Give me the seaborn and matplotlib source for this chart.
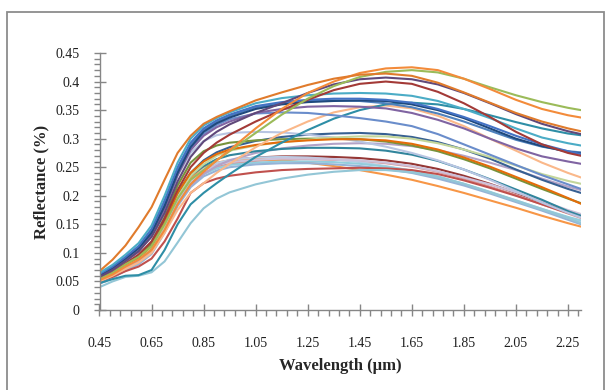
import numpy as np
import pandas as pd
import matplotlib
matplotlib.use("Agg")
import matplotlib.pyplot as plt
from matplotlib.ticker import FixedLocator
from matplotlib.patches import Rectangle
import seaborn as sns

# ---------------- data ----------------
wavelength = [0.45, 0.50, 0.55, 0.60, 0.65, 0.70, 0.75, 0.80, 0.85, 0.90, 0.95,
              1.05, 1.15, 1.25, 1.35, 1.45, 1.55, 1.65, 1.75, 1.85, 1.95, 2.05,
              2.15, 2.25, 2.30]

s01 = [0.068,0.088,0.113,0.145,0.180,0.228,0.275,0.305,0.326,0.338,0.348,0.367,0.381,0.394,0.405,0.412,0.414,0.410,0.398,0.381,0.363,0.345,0.330,0.318,0.313]
s02 = [0.063,0.076,0.093,0.112,0.142,0.192,0.250,0.293,0.318,0.332,0.342,0.357,0.364,0.368,0.370,0.370,0.368,0.363,0.352,0.338,0.322,0.305,0.290,0.278,0.273]
s03 = [0.065,0.079,0.097,0.117,0.148,0.200,0.258,0.300,0.323,0.336,0.346,0.362,0.371,0.376,0.379,0.380,0.379,0.375,0.366,0.352,0.336,0.318,0.302,0.292,0.288]
s04 = [0.060,0.073,0.090,0.108,0.135,0.182,0.240,0.285,0.312,0.327,0.337,0.352,0.360,0.364,0.366,0.367,0.366,0.360,0.350,0.336,0.318,0.300,0.287,0.277,0.274]
s05 = [0.058,0.070,0.086,0.103,0.128,0.170,0.225,0.268,0.295,0.312,0.325,0.345,0.362,0.380,0.395,0.404,0.407,0.404,0.395,0.380,0.362,0.343,0.326,0.313,0.308]
s06 = [0.057,0.069,0.085,0.102,0.130,0.178,0.236,0.280,0.305,0.320,0.330,0.345,0.352,0.356,0.357,0.356,0.353,0.345,0.333,0.318,0.300,0.283,0.269,0.260,0.256]
s07 = [0.055,0.066,0.081,0.097,0.120,0.160,0.210,0.250,0.275,0.293,0.307,0.330,0.350,0.368,0.385,0.396,0.400,0.396,0.382,0.362,0.338,0.312,0.290,0.275,0.270]
s08 = [0.059,0.071,0.087,0.104,0.132,0.180,0.238,0.282,0.308,0.324,0.334,0.344,0.346,0.345,0.341,0.336,0.330,0.322,0.308,0.290,0.272,0.254,0.236,0.220,0.212]
s09 = [0.061,0.074,0.091,0.110,0.138,0.188,0.246,0.290,0.315,0.330,0.340,0.355,0.362,0.366,0.367,0.366,0.362,0.355,0.344,0.330,0.314,0.298,0.286,0.278,0.276]
s10 = [0.052,0.062,0.076,0.088,0.105,0.140,0.185,0.220,0.242,0.262,0.280,0.318,0.352,0.380,0.400,0.415,0.423,0.425,0.420,0.405,0.387,0.368,0.352,0.341,0.337]
s11 = [0.054,0.065,0.080,0.093,0.112,0.150,0.195,0.228,0.245,0.262,0.278,0.310,0.342,0.370,0.392,0.408,0.417,0.420,0.416,0.405,0.390,0.376,0.364,0.354,0.350]
s12 = [0.047,0.054,0.060,0.061,0.070,0.105,0.150,0.185,0.205,0.222,0.238,0.268,0.293,0.315,0.335,0.350,0.360,0.363,0.360,0.352,0.341,0.329,0.318,0.309,0.306]
s13 = [0.050,0.060,0.072,0.083,0.100,0.135,0.175,0.205,0.222,0.240,0.256,0.285,0.310,0.330,0.346,0.355,0.358,0.353,0.340,0.322,0.300,0.279,0.258,0.240,0.232]
s14 = [0.056,0.067,0.082,0.094,0.115,0.155,0.205,0.240,0.262,0.276,0.285,0.296,0.303,0.307,0.309,0.310,0.308,0.303,0.294,0.281,0.265,0.246,0.228,0.212,0.205]
s15 = [0.052,0.064,0.080,0.094,0.120,0.170,0.235,0.275,0.296,0.306,0.310,0.312,0.311,0.307,0.302,0.295,0.286,0.275,0.262,0.246,0.228,0.208,0.188,0.170,0.162]
s16 = [0.055,0.066,0.082,0.095,0.118,0.162,0.218,0.258,0.278,0.288,0.293,0.297,0.299,0.300,0.300,0.299,0.295,0.288,0.278,0.264,0.248,0.230,0.212,0.195,0.187]
s17 = [0.053,0.064,0.079,0.090,0.110,0.148,0.198,0.235,0.255,0.270,0.279,0.288,0.294,0.298,0.302,0.304,0.304,0.300,0.292,0.281,0.268,0.253,0.238,0.226,0.221]
s18 = [0.054,0.065,0.080,0.092,0.112,0.152,0.205,0.240,0.260,0.273,0.281,0.289,0.294,0.297,0.299,0.299,0.297,0.291,0.281,0.267,0.251,0.233,0.215,0.196,0.186]
s19 = [0.051,0.061,0.075,0.086,0.104,0.140,0.185,0.218,0.238,0.252,0.262,0.275,0.283,0.288,0.291,0.292,0.291,0.287,0.280,0.270,0.258,0.245,0.230,0.216,0.210]
s20 = [0.053,0.063,0.078,0.090,0.110,0.150,0.200,0.235,0.252,0.264,0.271,0.278,0.282,0.284,0.284,0.283,0.279,0.272,0.261,0.246,0.229,0.211,0.193,0.173,0.165]
s21 = [0.052,0.062,0.076,0.088,0.106,0.145,0.195,0.228,0.246,0.256,0.262,0.267,0.269,0.269,0.268,0.266,0.262,0.256,0.247,0.235,0.221,0.205,0.189,0.172,0.164]
s22 = [0.050,0.060,0.074,0.086,0.104,0.142,0.190,0.222,0.240,0.250,0.256,0.261,0.264,0.264,0.263,0.261,0.257,0.251,0.242,0.230,0.216,0.201,0.185,0.169,0.161]
s23 = [0.050,0.061,0.075,0.087,0.105,0.145,0.196,0.230,0.250,0.258,0.262,0.264,0.262,0.258,0.252,0.245,0.237,0.228,0.217,0.205,0.192,0.179,0.165,0.152,0.146]
s24 = [0.048,0.058,0.072,0.084,0.102,0.142,0.192,0.226,0.247,0.257,0.263,0.267,0.268,0.267,0.264,0.259,0.252,0.244,0.233,0.220,0.206,0.192,0.177,0.162,0.155]
s25 = [0.049,0.059,0.073,0.085,0.103,0.143,0.193,0.226,0.244,0.254,0.259,0.263,0.265,0.265,0.264,0.262,0.258,0.252,0.243,0.232,0.220,0.206,0.191,0.175,0.168]
s26 = [0.047,0.057,0.070,0.082,0.100,0.138,0.186,0.220,0.238,0.248,0.254,0.258,0.260,0.260,0.259,0.256,0.251,0.244,0.234,0.221,0.207,0.192,0.177,0.163,0.157]
s27 = [0.046,0.056,0.069,0.080,0.098,0.135,0.182,0.215,0.234,0.244,0.250,0.255,0.257,0.257,0.255,0.252,0.247,0.240,0.230,0.218,0.204,0.189,0.174,0.158,0.150]
s28 = [0.050,0.058,0.068,0.076,0.090,0.120,0.160,0.205,0.222,0.230,0.235,0.241,0.245,0.247,0.248,0.249,0.248,0.245,0.238,0.227,0.214,0.200,0.185,0.170,0.164]
s29 = [0.040,0.050,0.058,0.060,0.066,0.085,0.118,0.152,0.178,0.195,0.206,0.220,0.230,0.237,0.242,0.245,0.245,0.241,0.233,0.221,0.206,0.191,0.176,0.161,0.152]

samples = [s21, s22, s23, s24, s25, s26, s27, s28, s29, s19, s20, s14, s15, s16, s17, s18,
           s13, s12, s08, s06, s09, s04, s02, s03, s07, s05, s11, s10, s01]
colors = ["#953735", "#D99694", "#F79646", "#B9CDE5", "#CCC1DA", "#93CDDD", "#95B3D7",
          "#C0504D", "#93C6D6", "#B3A2C7", "#31859C", "#376092", "#B8C5E2", "#77933C",
          "#C3D69B", "#E46C0A", "#FAB88A", "#2E8EA6", "#6A8DCB", "#8064A2", "#4F81BD",
          "#1F497D", "#4472C4", "#4BACC6", "#A33A37", "#60497A", "#9BBB59", "#F38B3A",
          "#E07B2C"]

x_ticks = [0.45, 0.65, 0.85, 1.05, 1.25, 1.45, 1.65, 1.85, 2.05, 2.25]
x_tick_labels = ["0.45", "0.65", "0.85", "1.05", "1.25", "1.45", "1.65", "1.85", "2.05", "2.25"]
y_ticks = [0, 0.05, 0.10, 0.15, 0.20, 0.25, 0.30, 0.35, 0.40, 0.45]
y_tick_labels = ["0", "0.05", "0.1", "0.15", "0.2", "0.25", "0.3", "0.35", "0.4", "0.45"]

# ---------------- figure ----------------
sns.set_theme(style="white")
plt.rcParams["font.family"] = ["Liberation Serif", "DejaVu Serif"]

rows = []
for i, s in enumerate(samples):
    for w, v in zip(wavelength, s):
        rows.append({"sample": f"S{i:02d}", "wl": w, "refl": v})
df = pd.DataFrame(rows)
order = [f"S{i:02d}" for i in range(len(samples))]

fig = plt.figure(figsize=(6.1, 3.9), dpi=100)
ax = fig.add_axes([99.5 / 610, 80 / 390, 481.5 / 610, 257 / 390])

sns.lineplot(data=df, x="wl", y="refl", hue="sample", hue_order=order,
             palette=colors, legend=False, linewidth=1.5, estimator=None,
             sort=False, ax=ax)

ax.set_xlim(0.45, 2.30)
ax.set_ylim(0, 0.45)
ax.set_xticks(x_ticks)
ax.set_xticklabels(x_tick_labels)
ax.set_yticks(y_ticks)
ax.set_yticklabels(y_tick_labels)
ax.xaxis.set_minor_locator(FixedLocator(np.arange(0.45, 2.301, 0.04)))
ax.yaxis.set_minor_locator(FixedLocator(np.arange(0, 0.4501, 0.01)))

axis_grey = "#868686"
for side in ["top", "right"]:
    ax.spines[side].set_visible(False)
for side in ["left", "bottom"]:
    ax.spines[side].set_color(axis_grey)
    ax.spines[side].set_linewidth(1.0)

ax.tick_params(axis="both", which="both", bottom=True, left=True, top=False, right=False)
ax.tick_params(axis="both", which="major", direction="inout", length=9,
               width=1.0, color=axis_grey, labelsize=10, labelcolor="#202020")
ax.tick_params(axis="both", which="minor", direction="out", length=4,
               width=1.0, color=axis_grey)
ax.tick_params(axis="x", which="major", pad=15)
ax.tick_params(axis="y", which="major", pad=10)

ax.set_xlabel("Wavelength (µm)", fontsize=12, fontweight="bold", labelpad=6)
ax.set_ylabel("Reflectance (%)", fontsize=12, fontweight="bold", labelpad=4)
ax.grid(False)

# outer chart frame
fig.patches.append(Rectangle((7 / 610, -0.05), 597 / 610, 1.05 - 12 / 390,
                             transform=fig.transFigure, fill=False,
                             edgecolor="#8C8C8C", linewidth=1.3))

fig.savefig("out.png", dpi=100)
